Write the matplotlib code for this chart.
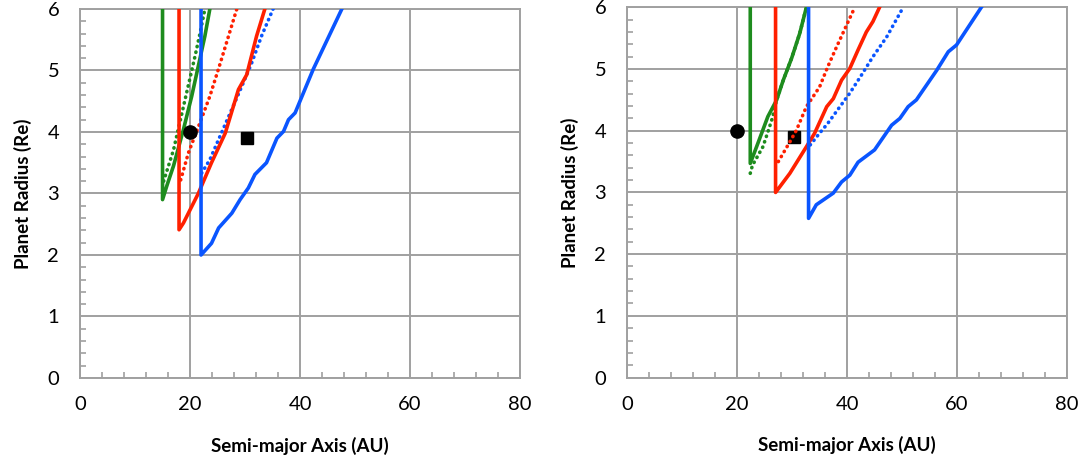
import matplotlib.pyplot as plt
from matplotlib.ticker import MultipleLocator

# left panel curves (semi-major axis AU, planet radius Re)
left_green_x = [15.0, 15.0, 15.8, 17.0, 18.8, 20.3, 21.5, 22.7, 23.6]
left_green_y = [6.0, 2.9, 3.13, 3.45, 4.04, 4.58, 5.07, 5.56, 6.0]
left_green_dot_x = [15.2, 17.0, 19.1, 20.9, 21.8, 22.7]
left_green_dot_y = [3.2, 3.71, 4.53, 5.23, 5.6, 6.0]
left_red_x = [18.0, 18.0, 18.8, 21.5, 23.9, 26.4, 28.8, 30.3, 32.1, 33.6]
left_red_y = [6.0, 2.41, 2.52, 3.0, 3.5, 3.98, 4.69, 4.93, 5.56, 6.0]
left_red_dot_x = [18.3, 19.7, 21.8, 23.6, 25.5, 27.0, 28.5]
left_red_dot_y = [3.22, 3.66, 4.15, 4.58, 5.12, 5.56, 6.0]
left_blue_x = [22.0, 22.0, 23.9, 25.2, 27.6, 29.1, 30.6, 31.8, 33.9, 35.8, 37.0, 37.9, 39.1, 42.4, 47.6]
left_blue_y = [6.0, 2.0, 2.19, 2.44, 2.68, 2.9, 3.09, 3.31, 3.5, 3.9, 4.01, 4.2, 4.31, 5.02, 6.0]
left_blue_dot_x = [22.1, 23.6, 25.2, 27.3, 29.4, 31.2, 33.0, 35.1]
left_blue_dot_y = [3.33, 3.55, 3.88, 4.31, 4.74, 5.12, 5.56, 6.0]

# right panel curves
right_green_x = [22.4, 22.4, 23.8, 25.6, 27.2, 28.4, 29.9, 31.4, 32.6]
right_green_y = [6.0, 3.47, 3.8, 4.23, 4.5, 4.82, 5.17, 5.58, 6.0]
right_green_dot_x = [22.4, 22.8, 24.7, 25.6, 26.4, 27.2, 28.4, 29.9, 31.4, 32.6]
right_green_dot_y = [3.31, 3.44, 3.74, 3.98, 4.2, 4.5, 4.82, 5.17, 5.58, 6.0]
right_red_x = [27.0, 27.0, 29.6, 32.6, 34.1, 36.3, 37.5, 39.0, 40.5, 42.0, 43.5, 44.7, 45.9]
right_red_y = [6.0, 3.0, 3.31, 3.74, 3.96, 4.39, 4.52, 4.82, 5.01, 5.31, 5.6, 5.77, 6.0]
right_red_dot_x = [27.5, 29.6, 30.8, 32.6, 35.0, 36.5, 38.1, 39.9, 41.4]
right_red_dot_y = [3.5, 3.82, 4.01, 4.39, 4.71, 5.04, 5.36, 5.71, 6.0]
right_blue_x = [33.0, 33.0, 34.4, 37.5, 39.0, 40.5, 42.0, 45.0, 48.1, 49.6, 51.1, 52.6, 56.3, 58.4, 59.9, 64.4]
right_blue_y = [6.0, 2.58, 2.8, 2.99, 3.17, 3.28, 3.49, 3.69, 4.09, 4.2, 4.39, 4.5, 4.98, 5.28, 5.39, 6.0]
right_blue_dot_x = [33.3, 35.0, 36.5, 38.7, 40.5, 42.6, 44.7, 47.2, 50.2]
right_blue_dot_y = [3.77, 3.96, 4.12, 4.39, 4.61, 4.9, 5.2, 5.52, 6.0]

# planets (same in both panels)
circle_x, circle_y = [20.0], [4.0]
square_x, square_y = [30.4], [3.9]

green = "#1e8c1e"
red = "#ff2000"
blue = "#0a55ff"
grid_c = "#a0a0a0"

plt.rcParams['font.family'] = ['Lato', 'DejaVu Sans']

fig = plt.figure(figsize=(10.83, 4.63), dpi=100)
ax1 = fig.add_axes([0.0739, 0.1836, 0.4063, 0.797])
ax2 = fig.add_axes([0.579, 0.1846, 0.4063, 0.7995])

dot_style = (0, (0.1, 1.5))

panels = [
    (ax1, [(left_green_x, left_green_y, green), (left_red_x, left_red_y, red), (left_blue_x, left_blue_y, blue)],
     [(left_green_dot_x, left_green_dot_y, green), (left_red_dot_x, left_red_dot_y, red), (left_blue_dot_x, left_blue_dot_y, blue)]),
    (ax2, [(right_green_x, right_green_y, green), (right_red_x, right_red_y, red), (right_blue_x, right_blue_y, blue)],
     [(right_green_dot_x, right_green_dot_y, green), (right_red_dot_x, right_red_dot_y, red), (right_blue_dot_x, right_blue_dot_y, blue)]),
]

for ax, solids, dots in panels:
    for x, y, c in dots:
        ax.plot(x, y, color=c, lw=2.6, linestyle=dot_style, dash_capstyle='round', zorder=3)
    for x, y, c in solids:
        ax.plot(x, y, color=c, lw=2.6, solid_joinstyle='round', zorder=4)
    ax.plot(circle_x, circle_y, 'o', color='black', markersize=9.5, zorder=5)
    ax.plot(square_x, square_y, 's', color='black', markersize=8.5, zorder=2)

    ax.set_xlim(0, 80)
    ax.set_ylim(0, 6)
    ax.xaxis.set_major_locator(MultipleLocator(20))
    ax.xaxis.set_minor_locator(MultipleLocator(4))
    ax.yaxis.set_major_locator(MultipleLocator(1))
    ax.yaxis.set_minor_locator(MultipleLocator(0.2))
    ax.grid(True, which='major', color=grid_c, lw=1.4)
    ax.set_axisbelow(True)
    for s in ax.spines.values():
        s.set_color(grid_c)
        s.set_linewidth(1.4)
    ax.tick_params(which='major', length=0, labelsize=14.5, colors='black')
    ax.tick_params(axis='y', which='major', pad=15)
    ax.tick_params(axis='x', which='major', pad=13)
    ax.tick_params(which='minor', direction='in', length=4, width=1.2, color=grid_c)
    ax.set_xlabel("Semi-major Axis (AU)", fontsize=13.5, fontweight='bold', labelpad=17)
    ax.set_ylabel("Planet Radius (Re)", fontsize=13.5, fontweight='bold', labelpad=11)

fig.savefig("out.png", dpi=100)
